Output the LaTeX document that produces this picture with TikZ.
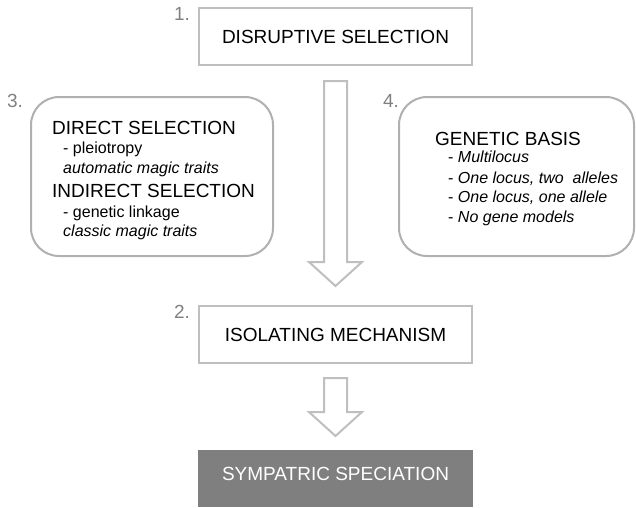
\documentclass[tikz,border=0pt]{standalone}
\usepackage{fontspec}
\setmainfont{Liberation Sans}
\definecolor{boxline}{HTML}{BFBFBF}
\definecolor{roundline}{HTML}{B0B0B0}
\definecolor{numgray}{HTML}{808080}
\definecolor{darkfill}{HTML}{7F7F7F}
\begin{document}
\begin{tikzpicture}[x=1pt,y=-1pt,
  stepbox/.style={draw=boxline,line width=2pt,fill=white},
  roundbox/.style={draw=roundline,line width=2pt,rounded corners=28pt},
  bigtext/.style={font=\fontsize{19}{21}\selectfont,inner sep=0pt},
  smalltext/.style={font=\fontsize{16}{18}\selectfont,inner sep=0pt,anchor=base west},
  headtext/.style={font=\fontsize{19}{21}\selectfont,inner sep=0pt,anchor=base west},
  numlabel/.style={font=\fontsize{19}{21}\selectfont,text=numgray,inner sep=0pt},
  hollowarrow/.style={draw=boxline,line width=2pt,fill=white,line join=miter}]
\useasboundingbox (0,0) rectangle (636,507);
% boxes
\draw[stepbox] (199,8) rectangle (472,65);
\node[bigtext] (disr) at (335.5,36.5) {DISRUPTIVE SELECTION};
\draw[stepbox] (199,306) rectangle (472,363);
\node[bigtext] (isol) at (335.5,334.5) {ISOLATING MECHANISM};
\fill[darkfill] (198,450) rectangle (473,507);
\node[bigtext,text=white] (symp) at (335.5,474) {SYMPATRIC SPECIATION};
% rounded boxes
\draw[roundbox] (31,97) rectangle (273,256);
\draw[roundbox] (399,97) rectangle (634,256);
% number labels
\node[numlabel] (n1) at (182,14) {1.};
\node[numlabel] (n2) at (182,312) {2.};
\node[numlabel] (n3) at (15,101) {3.};
\node[numlabel] (n4) at (391,101) {4.};
% left box text
\node[headtext] (ds) at (52,134) {DIRECT SELECTION};
\node[smalltext] (pl) at (63,153) {- pleiotropy};
\node[smalltext] (am) at (63,173) {\itshape automatic magic traits};
\node[headtext] (is) at (52,197) {INDIRECT SELECTION};
\node[smalltext] (gl) at (63,217) {- genetic linkage};
\node[smalltext] (cm) at (63,236) {\itshape classic magic traits};
% right box text
\node[headtext] (gb) at (435,145) {GENETIC BASIS};
\node[smalltext] (ml) at (448,162) {- \itshape Multilocus};
\node[smalltext] (ol2) at (448,183) {- \itshape One locus, two\ \ alleles};
\node[smalltext] (ol1) at (448,202) {- \itshape One locus, one allele};
\node[smalltext] (ng) at (448,222) {- \itshape No gene models};
% hollow arrows
\draw[hollowarrow] (324,81) -- (347,81) -- (347,262) -- (362,262) -- (335.5,286) -- (309,262) -- (324,262) -- cycle;
\draw[hollowarrow] (324,378) -- (347,378) -- (347,412) -- (362,412) -- (335.5,436) -- (309,412) -- (324,412) -- cycle;
\end{tikzpicture}
\end{document}
